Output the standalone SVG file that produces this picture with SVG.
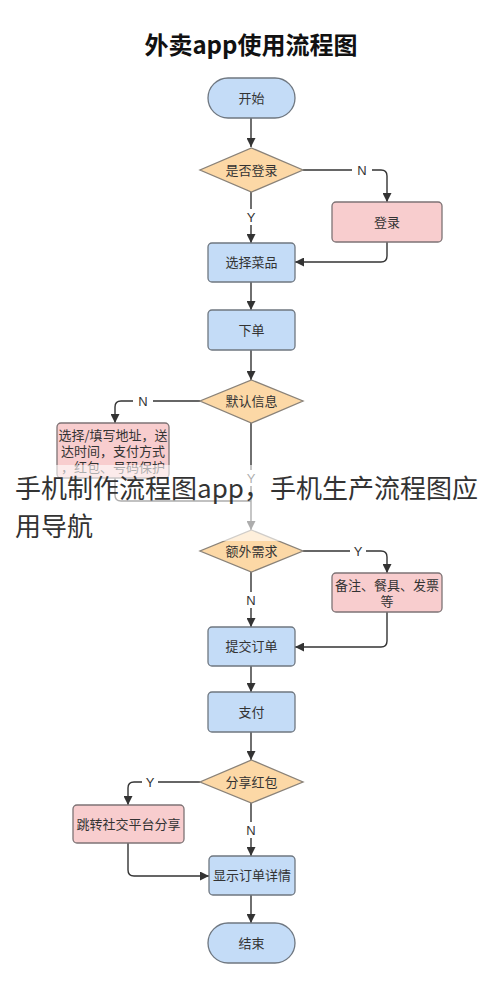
<svg xmlns="http://www.w3.org/2000/svg" width="490" height="995" viewBox="0 0 490 995">
<defs>
<marker id="ah" viewBox="0 0 10 10" refX="10" refY="5" markerWidth="9" markerHeight="9" markerUnits="userSpaceOnUse" orient="auto"><path d="M0,0 L10,5 L0,10 z" fill="#333"/></marker>
<style>
.blue{fill:#c4dcf7;stroke:#6f7780;stroke-width:1.3}
.org{fill:#fcd8a6;stroke:#8a8278;stroke-width:1.3}
.pink{fill:#f8cdce;stroke:#7d7375;stroke-width:1.3}
.t{font-family:"Noto Sans CJK SC","Noto Sans",sans-serif;font-size:13px;fill:#333;text-anchor:middle}
.lb{font-family:"Liberation Sans","Noto Sans",sans-serif;font-size:13px;fill:#333;text-anchor:middle}
.c{fill:none;stroke:#333;stroke-width:1.4}
.ca{fill:none;stroke:#333;stroke-width:1.4;marker-end:url(#ah)}
</style>
</defs>
<rect width="490" height="995" fill="#ffffff"/>
<text x="251" y="54" font-family="Noto Sans CJK SC,sans-serif" font-size="24" font-weight="bold" fill="#111" text-anchor="middle">外卖app使用流程图</text>

<g id="connectors">
<path class="ca" d="M251,118 V147"/>
<path class="c" d="M303,170 H352"/>
<path class="ca" d="M372,170 H381 Q387,170 387,176 V202"/>
<path class="c" d="M251,192 V209"/>
<path class="ca" d="M251,225 V243"/>
<path class="ca" d="M387,242 V256 Q387,262 381,262 H295"/>
<path class="ca" d="M251,282 V310"/>
<path class="ca" d="M251,350 V380"/>
<path class="c" d="M200,401 H153"/>
<path class="ca" d="M133,401 H121 Q115,401 115,407 V423"/>
<path class="c" d="M251,423 V470"/>
<path class="ca" d="M251,486 V530"/>
<path class="c" d="M115,478 V495 Q115,501 121,501 H251"/>
<path class="c" d="M303,551 H350"/>
<path class="ca" d="M366,551 H381 Q387,551 387,557 V573"/>
<path class="c" d="M251,572 V592"/>
<path class="ca" d="M251,608 V627"/>
<path class="ca" d="M387,612 V641 Q387,647 381,647 H295"/>
<path class="ca" d="M251,666 V692"/>
<path class="ca" d="M251,732 V760"/>
<path class="c" d="M200,782 H158"/>
<path class="ca" d="M142,782 H134 Q128,782 128,788 V805"/>
<path class="c" d="M251,803 V822"/>
<path class="ca" d="M251,838 V856"/>
<path class="ca" d="M128,843 V870 Q128,876 134,876 H209"/>
<path class="ca" d="M251,895 V923"/>
<text class="lb" x="362" y="175">N</text>
<text class="lb" x="251" y="222">Y</text>
<text class="lb" x="143" y="406">N</text>
<text class="lb" x="251" y="483">Y</text>
<text class="lb" x="358" y="556">Y</text>
<text class="lb" x="251" y="605">N</text>
<text class="lb" x="150" y="787">Y</text>
<text class="lb" x="251" y="835">N</text>
</g>

<g id="start"><rect class="blue" x="208" y="78" width="87" height="40" rx="20"/><text class="t" x="251.5" y="102.5">开始</text></g>
<g id="login-check"><path class="org" d="M251.5,148 L303,170 L251.5,192 L200,170 Z"/><text class="t" x="251.5" y="174.5">是否登录</text></g>
<g id="login"><rect class="pink" x="332" y="202" width="110" height="40" rx="4"/><text class="t" x="387" y="226.5">登录</text></g>
<g id="choose"><rect class="blue" x="208" y="243" width="87" height="39" rx="4"/><text class="t" x="251.5" y="267">选择菜品</text></g>
<g id="order"><rect class="blue" x="208" y="310" width="87" height="40" rx="4"/><text class="t" x="251.5" y="334.5">下单</text></g>
<g id="default-info"><path class="org" d="M251.5,380 L303,401 L251.5,423 L200,401 Z"/><text class="t" x="251.5" y="405.5">默认信息</text></g>
<g id="fill-info"><rect class="pink" x="57" y="423" width="112" height="55" rx="4"/><text class="t" x="113" y="440" font-size="12.5">选择/填写地址，送</text><text class="t" x="113" y="456" font-size="12.5">达时间，支付方式</text><text class="t" x="113" y="472" font-size="12.5">，红包、号码保护</text></g>
<g id="extra"><path class="org" d="M251.5,530 L303,551 L251.5,572 L200,551 Z"/><text class="t" x="251.5" y="555.5">额外需求</text></g>
<g id="notes"><rect class="pink" x="332" y="573" width="110" height="39" rx="4"/><text class="t" x="387" y="590">备注、餐具、发票</text><text class="t" x="387" y="606">等</text></g>
<g id="submit"><rect class="blue" x="208" y="627" width="87" height="39" rx="4"/><text class="t" x="251.5" y="651">提交订单</text></g>
<g id="pay"><rect class="blue" x="208" y="692" width="87" height="40" rx="4"/><text class="t" x="251.5" y="716.5">支付</text></g>
<g id="share-check"><path class="org" d="M251.5,760 L303,782 L251.5,803 L200,782 Z"/><text class="t" x="251.5" y="786.5">分享红包</text></g>
<g id="share"><rect class="pink" x="73" y="805" width="111" height="38" rx="4"/><text class="t" x="128.5" y="828.5">跳转社交平台分享</text></g>
<g id="detail"><rect class="blue" x="209" y="856" width="86" height="39" rx="4"/><text class="t" x="252" y="880">显示订单详情</text></g>
<g id="end"><rect class="blue" x="208" y="923" width="87" height="40" rx="20"/><text class="t" x="251.5" y="947.5">结束</text></g>

<g id="overlay">
<rect x="0" y="465" width="490" height="76" fill="#ffffff" fill-opacity="0.6"/>
<text x="15" y="498" font-family="Noto Sans CJK SC,sans-serif" font-size="26" fill="#333">手机制作流程图app，手机生产流程图应</text>
<text x="15" y="536" font-family="Noto Sans CJK SC,sans-serif" font-size="26" fill="#333">用导航</text>
</g>
</svg>
